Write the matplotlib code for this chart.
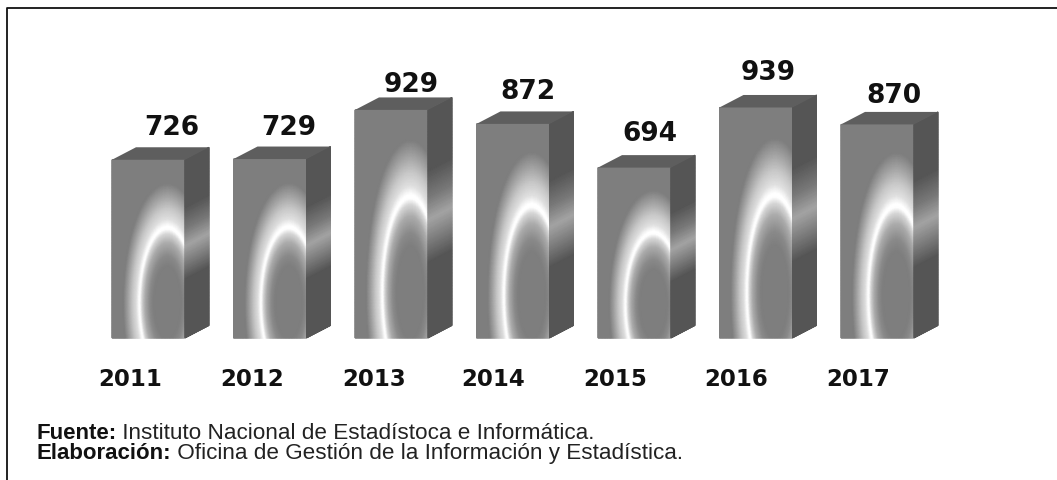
import numpy as np
import matplotlib
matplotlib.use('Agg')
import matplotlib.pyplot as plt
from matplotlib.colors import LinearSegmentedColormap
from matplotlib.lines import Line2D
from matplotlib.patches import Polygon

years = ['2011', '2012', '2013', '2014', '2015', '2016', '2017']
totals = [726, 729, 929, 872, 694, 939, 870]

source_lines = [
    ('Fuente:', ' Instituto Nacional de Estadístoca e Informática.'),
    ('Elaboración:', ' Oficina de Gestión de la Información y Estadística.'),
]

# Pixel layout of the picture, used to set up the axis limits.
W, H = 1057, 481
PX_X = 121.5        # pixels between two bars
PX_Y = 0.2455       # pixels per unit of value
X0, Y0 = 148.5, 339
BAR_W = 73 / PX_X
DEPTH_X = 24 / PX_X
DEPTH_Y = 12.5 / PX_Y

# The labels are not placed evenly in the original, nudges are in pixels.
value_dx = [23, 19, 20, 15, 15, 12, 16]
value_dy = [20, 20, 13, 20, 22, 23, 17]
year_dx = [-18, -18, -17, -20, -19, -20, -19]

# Colour against distance from the ellipse centre, the ring itself is at 0.5.
glow = LinearSegmentedColormap.from_list('glow', [
    (0.00, '#7e7e7e'), (0.24, '#7e7e7e'), (0.31, '#8a8a8a'), (0.40, '#acacac'),
    (0.46, '#d8d8d8'), (0.49, '#ffffff'), (0.515, '#ffffff'), (0.56, '#e0e0e0'),
    (0.63, '#c8c8c8'), (0.71, '#a4a4a4'), (0.80, '#7e7e7e'), (1.00, '#7e7e7e'),
])
side_glow = LinearSegmentedColormap.from_list('side_glow', [
    (0.00, '#555555'), (0.33, '#555555'), (0.52, '#a4a4a4'),
    (0.62, '#787878'), (0.74, '#555555'), (1.00, '#555555'),
])


def draw_bar(ax, x, value):
    left, right = x - BAR_W / 2, x + BAR_W / 2

    # Front face: elliptical ring anchored low and to the right.
    u = np.linspace(0, 1, 120)
    v = np.linspace(0, 1, 300)
    uu, vv = np.meshgrid(u, v)
    r = np.hypot((uu - 0.76) / 0.38, (vv - 0.20) / 0.42)
    ax.pcolormesh(left + uu * BAR_W, vv * value, r / 2, cmap=glow,
                  vmin=0, vmax=1, shading='gouraud', zorder=2)

    # Side face, skewed so the band follows the depth.
    s = np.linspace(0, 1, 30)
    ss, tt = np.meshgrid(s, v)
    ax.pcolormesh(right + ss * DEPTH_X, tt * value + ss * DEPTH_Y, tt,
                  cmap=side_glow, vmin=0, vmax=1, shading='gouraud', zorder=2)

    ax.add_patch(Polygon([(left, value), (right, value),
                          (right + DEPTH_X, value + DEPTH_Y),
                          (left + DEPTH_X, value + DEPTH_Y)],
                         facecolor='#5e5e5e', edgecolor='none', zorder=2))


fig = plt.figure(figsize=(W / 100, H / 100), dpi=100)
ax = fig.add_axes([0, 0, 1, 1])
ax.set_xlim(-X0 / PX_X, (W - X0) / PX_X)
ax.set_ylim(-(H - Y0) / PX_Y, Y0 / PX_Y)
ax.axis('off')

# Frame of the picture, only the top and left sides show.
fig.add_artist(Line2D([6.5 / W, 6.5 / W, 1], [0, 1 - 8.5 / H, 1 - 8.5 / H],
                      color='#111111', linewidth=1.3))

for i, (year, value) in enumerate(zip(years, totals)):
    draw_bar(ax, i, value)
    ax.text(i + value_dx[i] / PX_X, value + DEPTH_Y + value_dy[i] / PX_Y, str(value),
            ha='center', va='center', fontsize=19, fontweight='bold',
            color='#111111', family='DejaVu Sans')
    ax.text(i + year_dx[i] / PX_X, -40.5 / PX_Y, year, ha='center', va='center',
            fontsize=16.5, fontweight='bold', color='#111111', family='DejaVu Sans')

# Source notes: bold lead word followed by regular text.
for (lead, rest), y in zip(source_lines, [439.5, 459.5]):
    t = fig.text(36 / W, 1 - y / H, lead, fontsize=16, fontweight='bold',
                 family='Liberation Sans', color='#111111', va='baseline')
    ax.annotate(rest, xy=(1, 0), xycoords=t, va='bottom', fontsize=16.2,
                family='Liberation Sans', color='#222222')

fig.savefig('out.png', dpi=100)
